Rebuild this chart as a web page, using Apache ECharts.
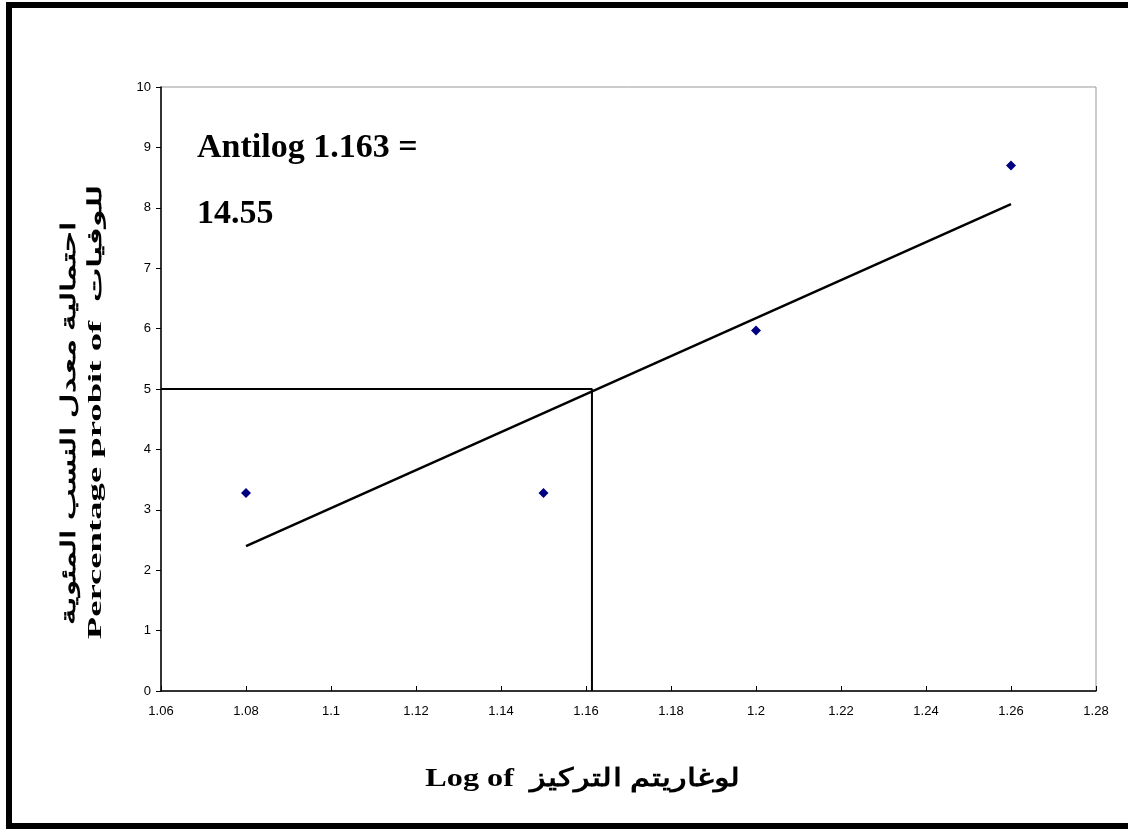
<!DOCTYPE html>
<html>

<head>
	<meta charset="UTF-8">
	<title></title>
	<style>
		html,
		body {
			margin: 0;
			padding: 0;
			background: #fff;
		}

		#chart {
			width: 1128px;
			height: 829px;
		}
	</style>
	<script src="https://cdn.jsdelivr.net/npm/echarts@6/dist/echarts.min.js"></script>
</head>

<body>
	<div id="chart"></div>
	<script>
		// نقاط القياس: لوغاريتم التركيز مقابل البروبت
		var logConc = [1.08, 1.15, 1.2, 1.26];
		var probit = [3.28, 3.28, 5.97, 8.7];

		// خط الانحدار (بداية ونهاية)
		var fitX = [1.08, 1.26];
		var fitY = [2.40, 8.06];

		// LC50: probit 5 -> log 1.1614
		var lc50Log = 1.1614;
		var lc50Probit = 5;

		var xMin = 1.06, xMax = 1.28, xStep = 0.02;
		var yMin = 0, yMax = 10, yStep = 1;

		var serif = '"Liberation Serif", "Times New Roman", serif';
		var sans = '"Liberation Sans", Arial, sans-serif';

		var points = logConc.map(function (x, i) { return [x, probit[i]]; });
		var fitLine = fitX.map(function (x, i) { return [x, fitY[i]]; });
		var guide = [[xMin, lc50Probit], [lc50Log, lc50Probit], [lc50Log, yMin]];

		var myChart = echarts.init(document.getElementById('chart'));
		myChart.setOption({
			animation: false,
			grid: {
				left: 161, right: 32, top: 87, bottom: 138,
				show: true, borderColor: '#999', borderWidth: 1
			},
			xAxis: {
				type: 'value', min: xMin, max: xMax, interval: xStep,
				axisLine: { lineStyle: { color: '#000', width: 1.5 } },
				axisTick: { inside: true, length: 5, lineStyle: { color: '#000' } },
				axisLabel: {
					color: '#000', fontFamily: sans, fontSize: 13, margin: 14,
					formatter: function (v) { return String(+v.toFixed(2)); }
				},
				splitLine: { show: false }
			},
			yAxis: {
				type: 'value', min: yMin, max: yMax, interval: yStep,
				axisLine: { show: true, lineStyle: { color: '#000', width: 1.5 } },
				axisTick: { show: true, length: 5, lineStyle: { color: '#000' } },
				axisLabel: { color: '#000', fontFamily: sans, fontSize: 13, margin: 10 },
				splitLine: { show: false }
			},
			series: [
				{
					type: 'line', data: guide, symbol: 'none',
					lineStyle: { color: '#000', width: 2 }, z: 3
				},
				{
					type: 'line', data: fitLine, symbol: 'none',
					lineStyle: { color: '#000', width: 2.5 }, z: 3
				},
				{
					type: 'scatter', data: points, symbol: 'diamond', symbolSize: 10,
					itemStyle: { color: '#000080', opacity: 1 }, z: 4
				}
			],
			graphic: [
				{
					type: 'rect', silent: true,
					shape: { x: 9, y: 5, width: 1130, height: 821 },
					style: { fill: 'none', stroke: '#000', lineWidth: 6 }
				},
				{
					type: 'text', left: 197, top: 131,
					style: { text: 'Antilog 1.163 =', font: 'bold 34px ' + serif, fill: '#000' }
				},
				{
					type: 'text', left: 197, top: 197,
					style: { text: '14.55', font: 'bold 34px ' + serif, fill: '#000' }
				},
				{
					type: 'text', x: 583, y: 780, scaleX: 1.29,
					style: {
						text: 'Log of  لوغاريتم التركيز', font: 'bold 25px ' + serif, fill: '#000',
						align: 'center', verticalAlign: 'middle'
					}
				},
				{
					type: 'text', x: 70, y: 423, rotation: Math.PI / 2, scaleX: 1.68,
					style: {
						text: 'احتمالية معدل النسب المئوية', font: 'bold 20px ' + serif, fill: '#000',
						align: 'center', verticalAlign: 'middle'
					}
				},
				{
					type: 'text', x: 96, y: 412, rotation: Math.PI / 2, scaleX: 1.93,
					style: {
						text: 'Percentage probit of  للوفيات', font: 'bold 19px ' + serif, fill: '#000',
						align: 'center', verticalAlign: 'middle'
					}
				}
			]
		});
	</script>
</body>

</html>
